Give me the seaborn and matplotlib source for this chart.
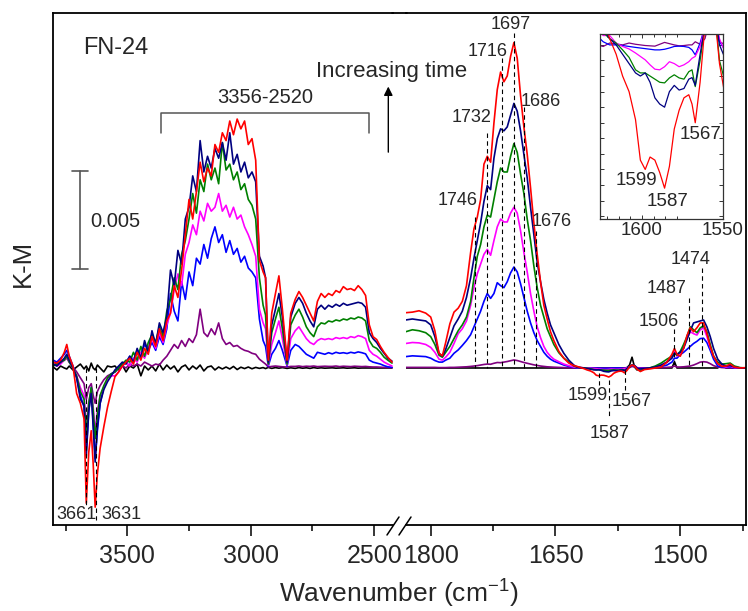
import matplotlib
matplotlib.use("Agg")
import matplotlib.pyplot as plt
from matplotlib.lines import Line2D
from matplotlib.ticker import FixedLocator, MultipleLocator, NullFormatter
import pandas as pd
import seaborn as sns

sns.set_style("white")
plt.rcParams["font.family"] = ["Liberation Sans", "DejaVu Sans"]
plt.rcParams["mathtext.fontset"] = "custom"
plt.rcParams["mathtext.rm"] = "Liberation Sans"
plt.rcParams["mathtext.it"] = "Liberation Sans:italic"
plt.rcParams["mathtext.bf"] = "Liberation Sans:bold"

# ---------------- data (K-M values in units of 1e-3) ----------------
# left panel (3800-2430 cm-1)
WN_L = [3800, 3785, 3770, 3755, 3745, 3735, 3720, 3705, 3690, 3675,
        3666, 3656, 3646, 3638, 3630, 3621, 3610, 3595, 3580, 3565,
        3550, 3535, 3520, 3505, 3490, 3475, 3460, 3445, 3430, 3415,
        3400, 3385, 3370, 3355, 3340, 3325, 3310, 3295, 3280, 3265,
        3250, 3235, 3220, 3205, 3190, 3175, 3160, 3145, 3130, 3115,
        3100, 3085, 3070, 3055, 3040, 3025, 3010, 2995, 2980, 2965,
        2950, 2940, 2929, 2915, 2900, 2886, 2872, 2853, 2838,
        2820, 2805, 2790, 2775, 2760, 2745, 2730, 2715, 2700, 2685,
        2670, 2655, 2640, 2625, 2610, 2595, 2580, 2565, 2550, 2535,
        2520, 2505, 2490, 2475, 2460, 2445, 2428]

BLACK_L = [0.05, -0.1, 0.1, 0.0, -0.05, 0.1, -0.1, 0.05, 0.2, -0.05,
           0.1, -0.15, 0.25, 0.0, -0.1, 0.15, 0.0, -0.2, 0.1, 0.05,
           0.1, -0.1, 0.15, -0.2, 0.1, 0.0, 0.2, -0.4, 0.1, -0.1,
           0.1, -0.15, 0.2, -0.1, 0.15, -0.05, 0.1, -0.2, 0.05, 0.15,
           -0.1, 0.1, -0.05, 0.15, -0.15, 0.05, 0.1, -0.1, 0.05, -0.05,
           0.05, -0.05, 0.08, -0.08, 0.04, -0.03, 0.05, -0.04, 0.03, -0.02,
           0.02, -0.03, 0.03, -0.02, 0.02, -0.01, 0.02, -0.02, 0.01,
           -0.02, 0.02, -0.01, 0.01, -0.02, 0.02, -0.01, 0.01, -0.01, 0.0,
           0.01, -0.01, 0.0, 0.01, -0.01, 0.0, 0.01, -0.01, 0.0, 0.0,
           0.0, 0.0, 0.0, 0.0, 0.0, 0.0, 0.0]

PURPLE_L = [0.3, 0.2, 0.3, 0.4, 0.5, 0.3, 0.05, -0.2, -0.5, -0.8,
            -1.6, -1.0, -0.8, -1.4, -1.8, -1.2, -0.9, -0.6, -0.4, -0.3,
            -0.2, 0.0, 0.1, 0.0, 0.2, 0.1, 0.2, 0.1, 0.3, 0.2,
            0.1, 0.2, 0.15, 0.4, 0.6, 0.9, 1.2, 1.0, 1.4, 1.1,
            1.5, 1.3, 1.7, 3.0, 1.8, 1.6, 2.0, 1.7, 2.3, 1.5,
            1.2, 1.3, 1.1, 1.15, 1.0, 0.9, 0.85, 0.75, 0.7, 0.45,
            0.3, 0.2, 0.05, 0.08, 0.1, 0.08, 0.06, 0.05, 0.08,
            0.08, 0.1, 0.07, 0.09, 0.08, 0.1, 0.07, 0.08, 0.09, 0.08,
            0.08, 0.1, 0.07, 0.09, 0.08, 0.07, 0.09, 0.08, 0.07, 0.08,
            0.06, 0.05, 0.05, 0.04, 0.03, 0.02, 0.02]

BLUE_L = [0.4, 0.3, 0.5, 0.7, 0.9, 0.6, 0.1, -0.5, -1.4, -2.0,
          -4.2, -2.2, -1.0, -2.8, -4.6, -3.2, -1.8, -1.0, -0.6, -0.3,
          -0.2, 0.0, 0.2, 0.3, 0.6, 0.4, 0.9, 0.7, 1.2, 0.9,
          1.3, 0.9, 1.6, 1.2, 2.0, 3.8, 2.9, 2.4, 4.4, 3.5,
          4.9, 4.2, 5.6, 5.3, 6.3, 5.6, 6.6, 7.2, 6.4, 6.8,
          5.9, 6.5, 5.8, 6.1, 5.4, 5.7, 5.1, 4.9, 4.6, 2.5,
          1.4, 1.1, 0.1, 0.7, 1.0, 1.4, 0.9, 0.1, 0.9,
          1.2, 1.1, 0.9, 0.7, 0.6, 0.5, 0.8, 0.75, 0.7, 0.78,
          0.72, 0.8, 0.75, 0.78, 0.74, 0.8, 0.76, 0.82, 0.78, 0.72,
          0.4, 0.3, 0.25, 0.2, 0.12, 0.06, 0.03]

MAGENTA_L = [0.2, 0.1, 0.2, 0.4, 0.5, 0.3, 0.0, -0.4, -1.0, -1.4,
             -3.0, -1.7, -1.2, -2.0, -3.2, -2.2, -1.4, -1.0, -0.6, -0.4,
             -0.4, -0.2, 0.1, 0.3, 0.1, 0.5, 0.3, 0.8, 0.5, 1.0,
             1.5, 1.0, 1.8, 1.3, 2.2, 2.8, 4.0, 4.8, 4.2, 5.8,
             6.4, 7.3, 6.8, 8.0, 7.5, 8.4, 8.0, 8.2, 8.9, 8.0,
             8.3, 7.7, 8.2, 7.6, 7.8, 7.2, 6.8, 6.3, 5.7, 3.0,
             2.3, 2.0, 0.15, 1.2, 1.8, 2.4, 1.5, 0.15, 1.5,
             1.9, 2.1, 1.8, 1.5, 1.3, 1.2, 1.4, 1.5, 1.45, 1.5,
             1.45, 1.55, 1.5, 1.55, 1.5, 1.6, 1.55, 1.65, 1.6, 1.5,
             0.9, 0.7, 0.6, 0.45, 0.3, 0.2, 0.1]

GREEN_L = [0.1, 0.2, 0.3, 0.4, 0.6, 0.3, 0.0, -0.4, -1.2, -1.6,
           -3.4, -1.8, -1.0, -2.2, -3.6, -2.4, -1.4, -0.9, -0.5, -0.3,
           -0.2, 0.0, 0.2, 0.4, 0.3, 0.8, 0.4, 1.1, 0.6, 1.3,
           1.7, 1.3, 2.1, 1.6, 2.9, 3.5, 4.6, 4.0, 5.8, 6.5,
           7.6, 8.9, 7.9, 9.6, 9.0, 10.4, 9.6, 10.2, 9.4, 11.5,
           10.1, 10.4, 9.6, 10.0, 9.1, 9.4, 8.6, 8.3, 7.6, 4.6,
           3.2, 2.7, 0.2, 1.8, 2.5, 3.1, 2.0, 0.2, 2.2,
           2.7, 3.0, 2.6, 2.1, 1.8, 1.6, 2.1, 2.3, 2.25, 2.4,
           2.35, 2.45, 2.4, 2.5, 2.45, 2.55, 2.5, 2.6, 2.55, 2.4,
           1.4, 1.1, 1.0, 0.8, 0.55, 0.4, 0.25]

NAVY_L = [0.2, 0.1, 0.3, 0.5, 0.7, 0.4, 0.0, -0.5, -1.6, -1.9,
          -4.5, -2.2, -1.3, -3.0, -4.8, -3.0, -1.8, -1.1, -0.7, -0.4,
          -0.1, 0.1, 0.3, 0.2, 0.6, 0.3, 1.0, 0.5, 1.4, 0.8,
          1.9, 1.2, 2.3, 1.8, 2.6, 5.0, 4.2, 6.0, 5.3, 7.6,
          8.2, 9.8, 9.0, 11.6, 10.0, 10.8, 10.2, 11.2, 10.7, 11.5,
          10.6, 12.0, 10.4, 10.9, 10.0, 10.5, 9.7, 10.0, 9.5, 5.7,
          5.2, 4.6, 0.3, 2.2, 3.0, 3.8, 2.6, 0.3, 2.6,
          3.3, 3.6, 3.3, 2.8, 2.4, 2.1, 3.0, 3.2, 3.0, 3.2,
          3.1, 3.25, 3.15, 3.3, 3.2, 3.25, 3.3, 3.35, 3.3, 3.1,
          1.8, 1.5, 1.3, 1.0, 0.75, 0.5, 0.35]

RED_L = [0.3, 0.25, 0.4, 0.8, 1.2, 0.6, 0.1, -1.3, -1.8, -2.6,
         -6.9, -4.3, -3.2, -4.9, -7.1, -5.4, -4.1, -3.0, -2.0, -1.2,
         -0.45, -0.2, 0.1, 0.3, 0.5, 0.2, 0.8, 0.4, 1.0, 0.7,
         1.6, 1.1, 2.0, 1.4, 2.4, 2.8, 4.2, 3.6, 5.0, 6.8,
         8.6, 7.6, 9.0, 10.5, 9.5, 10.2, 9.8, 11.4, 11.0, 12.0,
         11.6, 12.6, 11.9, 12.7, 12.2, 12.6, 11.4, 11.7, 10.6, 5.5,
         4.9, 4.6, 0.4, 2.8, 3.8, 4.7, 3.0, 0.4, 2.8,
         3.5, 3.9, 3.6, 3.2, 2.8, 2.4, 3.4, 3.8, 3.6, 3.8,
         3.7, 3.95, 3.85, 4.15, 4.0, 4.05, 3.95, 4.2, 4.0, 3.7,
         2.2, 1.6, 1.45, 1.1, 0.8, 0.55, 0.3]

# right panel (1830-1421 cm-1)
WN_R = [1830, 1822, 1814, 1806, 1800, 1795, 1790, 1786, 1782, 1777, 1772, 1767, 1762, 1757, 1752,
        1748, 1744, 1740, 1736, 1732, 1728, 1724, 1720, 1716, 1712,
        1708, 1704, 1700, 1696, 1692, 1688, 1684, 1680, 1676, 1672,
        1668, 1664, 1660, 1656, 1652, 1646, 1640, 1634, 1628, 1624,
        1620, 1616, 1612, 1608, 1604, 1601, 1598, 1595, 1592, 1589,
        1586, 1583, 1580, 1577, 1574, 1571, 1569, 1567, 1564, 1561,
        1558, 1555, 1552, 1548, 1543, 1537, 1530, 1523, 1516, 1510,
        1507, 1504, 1500, 1496, 1492, 1488, 1484, 1480, 1476, 1472,
        1468, 1464, 1460, 1455, 1450, 1445, 1440, 1435, 1428, 1421]

BLACK_R = [0.0, 0.0, 0.0, 0.0, 0.0, 0.0, 0.0, 0.0, 0.0, 0.0, 0.0, 0.0, 0.0, 0.0, 0.0,
           0.0, 0.0, 0.0, 0.0, 0.0, 0.0, 0.0, 0.0, 0.0, 0.0,
           0.0, 0.0, 0.0, 0.0, 0.0, 0.0, 0.0, 0.0, 0.0, 0.0,
           0.0, 0.0, 0.0, 0.0, 0.0, 0.0, 0.0, 0.0, 0.0, 0.0,
           0.0, 0.0, 0.0, 0.0, 0.0, 0.0, 0.0, 0.0, 0.0, 0.0,
           0.0, 0.0, 0.0, 0.0, 0.0, 0.0, 0.0, 0.0, 0.02, 0.15,
           0.55, 0.05, -0.1, 0.0, 0.0, 0.0, 0.0, 0.0, 0.0, 0.0,
           0.32, 0.0, 0.0, 0.0, 0.0, 0.0, 0.0, 0.0, 0.0, 0.0,
           0.0, 0.0, 0.0, 0.0, 0.2, 0.0, 0.0, 0.0, 0.0, 0.0]

PURPLE_R = [0.03, 0.03, 0.03, 0.03, 0.03, 0.03, 0.02, 0.02, 0.02, 0.03, 0.03, 0.04, 0.05, 0.06, 0.08,
            0.1, 0.12, 0.15, 0.18, 0.2, 0.19, 0.24, 0.28, 0.27, 0.3,
            0.33, 0.37, 0.41, 0.38, 0.33, 0.28, 0.24, 0.2, 0.16, 0.13,
            0.1, 0.08, 0.06, 0.05, 0.04, 0.03, 0.02, 0.01, 0.0, -0.005,
            0.006, 0.003, 0.0, 0.006, 0.002, 0.0, -0.002, -0.003, -0.004, 0.002,
            0.008, 0.004, 0.0, -0.003, -0.002, 0.0, 0.0, 0.01, 0.002, 0.02,
            0.08, 0.05, 0.01, 0.0, 0.0, 0.0, 0.01, 0.02, 0.03, 0.05,
            0.1, 0.05, 0.05, 0.06, 0.08, 0.1, 0.15, 0.22, 0.3, 0.32,
            0.3, 0.22, 0.12, 0.05, 0.02, 0.01, 0.0, 0.0, 0.0, 0.0]

BLUE_R = [0.58, 0.62, 0.6, 0.58, 0.5, 0.38, 0.3, 0.3, 0.4, 0.5, 0.75, 0.92, 1.15, 1.4, 1.7,
          2.1, 2.5, 2.9, 3.4, 3.8, 3.55, 3.8, 4.35, 4.2, 4.1,
          4.4, 4.85, 5.15, 4.9, 4.3, 3.6, 2.9, 2.3, 1.8, 1.4,
          1.1, 0.8, 0.6, 0.45, 0.35, 0.25, 0.15, 0.08, 0.03, 0.01,
          0.0, 0.0, -0.002, -0.005, -0.008, -0.01, -0.012, -0.014, -0.016, -0.016,
          -0.014, -0.01, -0.005, -0.004, -0.005, -0.008, -0.016, -0.032, 0.006, 0.06,
          0.13, 0.1, 0.01, -0.02, -0.01, 0.0, 0.03, 0.08, 0.15, 0.3,
          0.5, 0.5, 0.68, 0.8, 0.95, 1.1, 1.25, 1.36, 1.5, 1.52,
          1.3, 0.9, 0.45, 0.1, 0.05, 0.03, 0.04, 0.01, 0.0, 0.0]

MAGENTA_R = [1.25, 1.3, 1.28, 1.2, 1.05, 0.8, 0.45, 0.4, 0.55, 0.8, 1.25, 1.75, 2.0, 2.4, 3.2,
             4.1, 4.8, 5.3, 5.8, 6.05, 5.75, 6.5, 7.2, 7.6, 7.45,
             7.45, 7.9, 8.2, 7.9, 7.0, 5.9, 4.9, 3.8, 2.9, 2.1,
             1.55, 1.1, 0.8, 0.6, 0.45, 0.32, 0.2, 0.12, 0.05, 0.03,
             0.03, 0.006, -0.005, -0.013, -0.026, -0.037, -0.048, -0.064, -0.078, -0.08,
             -0.07, -0.054, -0.06, -0.07, -0.064, -0.054, -0.043, -0.037, -0.005, 0.06,
             0.14, 0.12, 0.02, -0.03, -0.02, 0.0, 0.05, 0.15, 0.3, 0.55,
             0.85, 0.6, 0.7, 1.1, 1.5, 1.85, 1.75, 1.68, 1.95, 2.05,
             1.6, 1.05, 0.6, 0.25, 0.1, 0.05, 0.08, 0.02, 0.0, 0.0]

GREEN_R = [1.85, 1.95, 1.9, 1.8, 1.6, 1.2, 0.65, 0.55, 0.8, 1.1, 1.5, 1.9, 2.2, 2.6, 3.4,
           4.6, 5.7, 6.3, 7.2, 7.8, 7.7, 8.6, 9.5, 10.2, 10.0,
           10.0, 10.8, 11.45, 11.0, 9.9, 8.9, 7.6, 6.5, 5.2, 4.1,
           3.2, 2.6, 2.0, 1.6, 1.2, 0.78, 0.5, 0.3, 0.1, 0.04,
           0.02, 0.006, -0.016, -0.04, -0.08, -0.09, -0.09, -0.1, -0.11, -0.12,
           -0.122, -0.106, -0.096, -0.106, -0.11, -0.086, -0.08, -0.134, -0.05, 0.06,
           0.15, 0.12, -0.05, -0.13, -0.05, 0.0, 0.1, 0.25, 0.45, 0.6,
           0.75, 0.65, 0.85, 1.2, 1.6, 2.1, 1.95, 1.8, 2.05, 2.15,
           1.85, 1.2, 0.6, 0.3, 0.2, 0.22, 0.25, 0.1, 0.02, 0.0]

NAVY_R = [2.45, 2.5, 2.45, 2.4, 2.2, 1.6, 0.75, 0.6, 0.95, 1.55, 2.15, 2.5, 2.9, 3.6, 4.6,
          5.6, 6.5, 7.4, 8.5, 9.3, 9.1, 10.7, 11.7, 12.2, 12.1,
          12.3, 12.9, 13.5, 13.1, 12.1, 10.9, 9.7, 8.2, 6.8, 5.4,
          4.4, 3.5, 2.8, 2.2, 1.8, 1.2, 0.75, 0.4, 0.15, 0.05,
          0.02, 0.0, -0.03, -0.06, -0.09, -0.1, -0.09, -0.12, -0.17, -0.19,
          -0.2, -0.15, -0.13, -0.145, -0.14, -0.11, -0.105, -0.13, -0.03, 0.06,
          0.15, 0.12, 0.0, -0.05, -0.02, 0.0, 0.05, 0.15, 0.3, 0.5,
          0.75, 0.7, 0.8, 1.0, 1.45, 1.9, 2.3, 2.35, 2.4, 2.45,
          2.1, 1.6, 1.0, 0.45, 0.2, 0.1, 0.12, 0.05, 0.0, 0.0]

RED_R = [2.82, 2.85, 2.92, 2.8, 2.6, 1.9, 0.75, 0.62, 1.3, 2.25, 2.85, 3.05, 3.4, 4.2, 5.9,
         7.1, 7.7, 8.6, 10.4, 10.8, 10.5, 12.5, 14.2, 15.1, 14.6,
         14.9, 15.9, 16.6, 15.8, 13.9, 12.3, 10.9, 9.2, 7.4, 5.8,
         4.4, 3.2, 2.5, 1.85, 1.4, 0.85, 0.5, 0.25, 0.12, 0.08,
         0.02, -0.03, -0.10, -0.15, -0.24, -0.37, -0.40, -0.36, -0.37, -0.41,
         -0.46, -0.39, -0.27, -0.21, -0.17, -0.16, -0.19, -0.25, -0.12, 0.06,
         0.15, 0.1, -0.06, -0.18, -0.08, -0.05, 0.0, 0.05, 0.3, 0.7,
         1.0, 0.7, 0.6, 1.0, 1.65, 2.05, 1.85, 2.05, 2.3, 2.3,
         1.75, 1.1, 0.6, 0.22, 0.08, 0.1, 0.2, 0.05, 0.0, 0.02]

ORDER = ["black", "purple", "blue", "magenta", "green", "navy", "red"]
COLORS = {"black": "#000000", "purple": "#800080", "blue": "#0000FF",
          "magenta": "#FF00FF", "green": "#008000", "navy": "#000080",
          "red": "#FF0000"}
LEFT = {"black": BLACK_L, "purple": PURPLE_L, "blue": BLUE_L, "magenta": MAGENTA_L,
        "green": GREEN_L, "navy": NAVY_L, "red": RED_L}
RIGHT = {"black": BLACK_R, "purple": PURPLE_R, "blue": BLUE_R, "magenta": MAGENTA_R,
         "green": GREEN_R, "navy": NAVY_R, "red": RED_R}


def long_frame(wn, series):
    parts = []
    for name in ORDER:
        vals = series[name]
        assert len(vals) == len(wn), (name, len(vals), len(wn))
        parts.append(pd.DataFrame({"wn": wn, "km": vals, "series": name}))
    return pd.concat(parts, ignore_index=True)


df_left = long_frame(WN_L, LEFT)
df_right = long_frame(WN_R, RIGHT)

# ---------------- layout ----------------
W, H = 748, 611
fig = plt.figure(figsize=(W / 100, H / 100), dpi=100)


def fx(px):
    return px / W


def fy(py):
    return 1 - py / H


TOP, BOT = 13, 525
YLIM = (-8.01, 18.11)
axL = fig.add_axes([fx(52.7), fy(BOT), fx(393) - fx(52.7), fy(TOP) - fy(BOT)])
axR = fig.add_axes([fx(406), fy(BOT), fx(746) - fx(406), fy(TOP) - fy(BOT)])

for ax, df in ((axL, df_left), (axR, df_right)):
    sns.lineplot(data=df, x="wn", y="km", hue="series", hue_order=ORDER,
                 palette=COLORS, estimator=None, sort=False, legend=False,
                 linewidth=1.2, ax=ax)
    ax.set_xlabel("")
    ax.set_ylabel("")
    ax.set_ylim(*YLIM)
    ax.set_yticks([])
    for s in ax.spines.values():
        s.set_linewidth(1.3)
        s.set_color("black")
    ax.tick_params(axis="x", which="both", bottom=True, direction="out",
                   width=1.1, color="black")
    ax.tick_params(axis="x", which="major", length=8, labelsize=18, pad=5.5)
    ax.tick_params(axis="x", which="minor", length=4.3)
    ax.set_facecolor("none")

axL.set_xlim(3802, 2424)
axR.set_xlim(1829.7, 1421)
axL.spines["right"].set_visible(False)
axR.spines["left"].set_visible(False)
axL.set_xticks([3500, 3000, 2500])
axL.set_xticks([3750, 3250, 2750], minor=True)
axR.set_xticks([1800, 1650, 1500])
axR.set_xticks([1725, 1575, 1425], minor=True)

# continuous top frame across the break, and break marks on the bottom axis
fig.add_artist(Line2D([fx(392), fx(407)], [fy(TOP), fy(TOP)], color="black", lw=1.3))
fig.add_artist(Line2D([fx(387), fx(399)], [fy(535), fy(517)], color="black", lw=1.1))
fig.add_artist(Line2D([fx(399), fx(411)], [fy(535), fy(517)], color="black", lw=1.1))

fig.text(fx(23), fy(263), "K-M", rotation=90, ha="center", va="center", fontsize=18.5)
fig.text(fx(399), fy(594), "Wavenumber (cm$^{-1}$)", ha="center", va="center", fontsize=19)

# ---------------- annotations: left panel ----------------
GRAY = "#555555"
DASH = dict(color="black", lw=0.8, linestyle=(0, (4, 3)))
axL.text(3679, 16.33, "FN-24", ha="left", va="center", fontsize=17)
axL.plot([3364, 3364, 2522, 2522], [12.0, 13.0, 13.0, 12.0], color=GRAY, lw=1.1)
axL.text(2942, 13.78, "3356-2520", ha="center", va="center", fontsize=14.5)
axL.plot([3691.5, 3691.5], [5.05, 10.05], color=GRAY, lw=1.2)
axL.plot([3724, 3659], [5.05, 5.05], color=GRAY, lw=1.2)
axL.plot([3724, 3659], [10.05, 10.05], color=GRAY, lw=1.2)
axL.text(3651, 7.46, "0.005", ha="left", va="center", fontsize=14.5)
axL.annotate("", xy=(2443, 14.5), xytext=(2443, 10.87),
             arrowprops=dict(arrowstyle="-|>", color="black", lw=1.0, mutation_scale=13))
fig.text(fx(391.5), fy(72), "Increasing time", ha="center", va="center", fontsize=16)

axL.plot([3666, 3666], [0, -7.1], **DASH)
axL.plot([3628, 3628], [0, -7.76], **DASH)
axL.text(3707.7, -7.45, "3661", ha="center", va="center", fontsize=13)
axL.text(3525.5, -7.45, "3631", ha="center", va="center", fontsize=13)

# ---------------- annotations: right panel ----------------
for wn, y0, y1 in [(1746.8, 7.7, 0), (1732.3, 12.0, 0), (1714.5, 15.8, 0),
                   (1700, 17.1, 0), (1688, 13.3, -0.1), (1673.6, 7.0, 0),
                   (1507.6, 2.0, 0), (1489.5, 3.55, 0), (1474.3, 5.1, 0),
                   (1597.7, -0.26, -0.87), (1586, -0.6, -2.55), (1566.8, -0.1, -1.12)]:
    axR.plot([wn, wn], [y0, y1], **DASH)

for txt, wn, y in [("1746", 1767.2, 8.57), ("1732", 1750.4, 12.8), ("1716", 1731.1, 16.17),
                   ("1697", 1703.5, 17.5), ("1686", 1667.4, 13.57), ("1676", 1654.2, 7.45),
                   ("1506", 1525.6, 2.35), ("1487", 1516, 4.08), ("1474", 1487.1, 5.56),
                   ("1599", 1610.9, -1.38), ("1587", 1584.5, -3.32), ("1567", 1558, -1.73)]:
    axR.text(wn, y, txt, ha="center", va="center", fontsize=13)

# ---------------- inset ----------------
axI = fig.add_axes([fx(600), fy(219.3), fx(722.7) - fx(600), fy(34) - fy(219.3)])
axI.set_facecolor("white")
df_inset = df_right[df_right["series"] != "black"]
sns.lineplot(data=df_inset, x="wn", y="km", hue="series", hue_order=ORDER[1:],
             palette=COLORS, estimator=None, sort=False, legend=False,
             linewidth=0.9, ax=axI)
axI.set_xlabel("")
axI.set_ylabel("")
axI.set_xlim(1626, 1550)
axI.set_ylim(-0.56, 0.035)
axI.set_xticks([1600, 1550])
axI.xaxis.set_minor_locator(FixedLocator([1600 + k * 50 / 7 for k in range(-3, 8)]))
axI.yaxis.set_major_locator(MultipleLocator(0.05))
axI.yaxis.set_major_formatter(NullFormatter())
axI.tick_params(axis="both", which="both", direction="in", top=True, bottom=True,
                left=True, right=True, width=0.7, color="#333333")
axI.tick_params(axis="both", which="major", length=3)
axI.tick_params(axis="both", which="minor", length=2.5)
axI.tick_params(axis="x", which="major", labelsize=13.5, pad=2)
for s in axI.spines.values():
    s.set_linewidth(0.9)
    s.set_color("#333333")
axI.text(1603.6, -0.437, "1599", ha="center", va="center", fontsize=13.5)
axI.text(1584.1, -0.504, "1587", ha="center", va="center", fontsize=13.5)
axI.text(1563.5, -0.289, "1567", ha="center", va="center", fontsize=13.5)

fig.savefig("out.png", dpi=100)
